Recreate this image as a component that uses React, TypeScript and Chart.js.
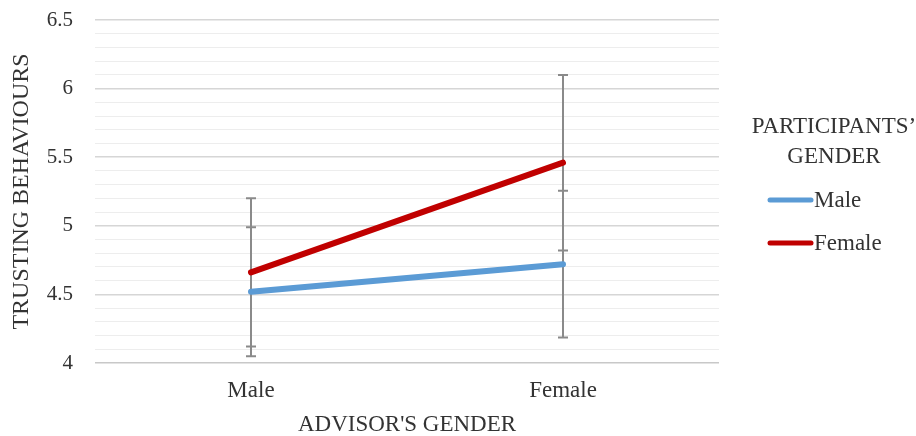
import React, { useEffect, useRef } from "react";
import { Chart, registerables } from "chart.js";

Chart.register(...registerables);

const categories = ["Male", "Female"];
const legendTitle = ["PARTICIPANTS’", "GENDER"];
const seriesNames = ["Male", "Female"];
const maleValues = [4.52, 4.72];
const femaleValues = [4.66, 5.46];
const maleErrors = [0.47, 0.535];
const femaleErrors = [0.54, 0.64];
const seriesColors = ["#5b9bd5", "#c00000"];
const yMin = 4;
const yMax = 6.5;
const yTitle = "TRUSTING BEHAVIOURS";
const xTitle = "ADVISOR'S GENDER";

const FONT = "'Liberation Serif', 'Times New Roman', serif";
const TEXT = "#333333";

const errorBarsPlugin = {
  id: "errorBars",
  beforeDatasetsDraw(chart: any) {
    const { ctx, scales } = chart;
    const x = scales.x;
    const y = scales.y;
    const sets = [
      { vals: maleValues, errs: maleErrors },
      { vals: femaleValues, errs: femaleErrors },
    ];
    ctx.save();
    ctx.strokeStyle = "#8a8a8a";
    ctx.lineWidth = 2;
    sets.forEach((s) => {
      s.vals.forEach((v, i) => {
        const px = x.getPixelForValue(i);
        const top = y.getPixelForValue(v + s.errs[i]);
        const bot = y.getPixelForValue(v - s.errs[i]);
        ctx.beginPath();
        ctx.moveTo(px, top);
        ctx.lineTo(px, bot);
        ctx.moveTo(px - 5, top);
        ctx.lineTo(px + 5, top);
        ctx.moveTo(px - 5, bot);
        ctx.lineTo(px + 5, bot);
        ctx.stroke();
      });
    });
    ctx.restore();
  },
};

const legendPlugin = {
  id: "customLegend",
  afterDraw(chart: any) {
    const { ctx } = chart;
    ctx.save();
    ctx.fillStyle = TEXT;
    ctx.font = `23px ${FONT}`;
    ctx.textAlign = "center";
    ctx.textBaseline = "alphabetic";
    ctx.fillText(legendTitle[0], 834, 133);
    ctx.fillText(legendTitle[1], 834, 163);
    const rows = [200, 243];
    seriesNames.forEach((name, i) => {
      const yy = rows[i];
      ctx.strokeStyle = seriesColors[i];
      ctx.lineWidth = 5;
      ctx.lineCap = "round";
      ctx.beginPath();
      ctx.moveTo(770, yy);
      ctx.lineTo(811, yy);
      ctx.stroke();
      ctx.textAlign = "left";
      ctx.textBaseline = "middle";
      ctx.fillText(name, 814, yy + 1);
    });
    ctx.restore();
  },
};

function isMajor(v: number) {
  return Math.abs(v * 2 - Math.round(v * 2)) < 1e-6;
}

export default function App() {
  const ref = useRef<HTMLCanvasElement>(null);

  useEffect(() => {
    const canvas = ref.current;
    if (!canvas) return;
    const chart = new Chart(canvas, {
      type: "line",
      data: {
        labels: categories,
        datasets: [
          {
            label: seriesNames[0],
            data: maleValues,
            borderColor: seriesColors[0],
            backgroundColor: seriesColors[0],
            borderWidth: 6,
            borderCapStyle: "round",
            pointRadius: 0,
            tension: 0,
          },
          {
            label: seriesNames[1],
            data: femaleValues,
            borderColor: seriesColors[1],
            backgroundColor: seriesColors[1],
            borderWidth: 6,
            borderCapStyle: "round",
            pointRadius: 0,
            tension: 0,
          },
        ],
      },
      options: {
        animation: false,
        responsive: false,
        layout: { padding: { top: 20, right: 197, left: 0, bottom: 0 } },
        plugins: {
          legend: { display: false },
          tooltip: { enabled: false },
        },
        scales: {
          x: {
            type: "category",
            offset: true,
            grid: { display: false, drawTicks: false },
            border: { display: false },
            ticks: {
              color: TEXT,
              font: { family: FONT, size: 23 },
              padding: 14,
              maxRotation: 0,
            },
            title: {
              display: true,
              text: xTitle,
              color: TEXT,
              font: { family: FONT, size: 23, lineHeight: 1 },
              padding: { top: 0, bottom: 0 },
            },
            afterFit(scale: any) {
              scale.height = 73;
              scale.paddingLeft = 0;
              scale.paddingRight = 0;
            },
          },
          y: {
            min: yMin,
            max: yMax,
            grid: {
              drawTicks: false,
              color: (c: any) =>
                c.tick && isMajor(c.tick.value)
                  ? c.tick.value === yMin
                    ? "#c8c8c8"
                    : "#d6d6d6"
                  : "#ededed",
              lineWidth: (c: any) =>
                c.tick && isMajor(c.tick.value) ? 1.5 : 1,
            },
            border: { display: false },
            ticks: {
              stepSize: 0.1,
              autoSkip: false,
              color: TEXT,
              font: { family: FONT, size: 21 },
              padding: 22,
              callback: (v: any) => {
                const n = Number(v);
                return isMajor(n) ? String(Math.round(n * 10) / 10) : "";
              },
            },
            title: {
              display: true,
              text: yTitle,
              color: TEXT,
              font: { family: FONT, size: 24, lineHeight: 1 },
              padding: { top: 10, bottom: 0 },
            },
            afterFit(scale: any) {
              scale.width = 95;
              scale.paddingTop = 0;
              scale.paddingBottom = 0;
            },
          },
        },
      },
      plugins: [errorBarsPlugin, legendPlugin],
    } as any);
    return () => chart.destroy();
  }, []);

  return (
    <div
      style={{
        position: "absolute",
        left: 0,
        top: 0,
        width: 916,
        height: 436,
        background: "#ffffff",
      }}
    >
      <canvas ref={ref} width={916} height={436} />
    </div>
  );
}
